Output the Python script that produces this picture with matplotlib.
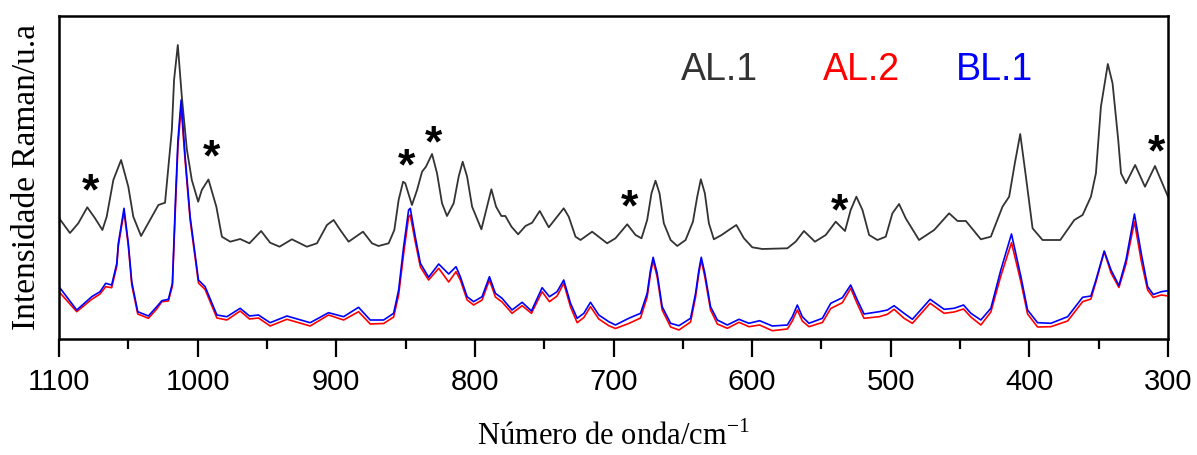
import numpy as np
import matplotlib.pyplot as plt
from matplotlib.ticker import MultipleLocator

plt.rcParams['font.family'] = ['Liberation Sans', 'DejaVu Sans']
plt.rcParams['mathtext.fontset'] = 'custom'
plt.rcParams['mathtext.rm'] = 'Liberation Serif'

# AL.1 (top trace, offset upwards)
wn_al1 = [1100.0, 1092.1, 1086.1, 1079.6, 1074.0, 1068.7, 1065.6, 1060.8, 1055.2, 1050.0,
          1046.4, 1040.8, 1028.3, 1023.5, 1018.6, 1017.0, 1014.3, 1011.4, 1007.8, 1004.2,
          999.6, 997.0, 992.2, 986.5, 982.5, 976.5, 969.3, 962.6, 954.2, 947.7,
          940.9, 932.0, 921.2, 913.9, 906.7, 901.9, 897.1, 891.1, 880.7, 874.2,
          869.5, 862.2, 858.1, 855.0, 851.8, 850.2, 845.4, 841.7, 838.1, 835.3,
          830.9, 827.3, 823.7, 820.1, 815.3, 811.7, 808.8, 805.6, 802.0, 795.3,
          791.2, 788.1, 784.7, 780.9, 778.0, 773.6, 768.8, 763.5, 758.7, 753.2,
          746.7, 740.7, 735.9, 732.3, 727.4, 723.8, 715.4, 704.6, 698.6, 690.1,
          684.1, 679.8, 675.7, 672.6, 669.7, 666.8, 663.7, 658.8, 654.0, 648.0,
          642.7, 639.6, 637.0, 634.1, 631.2, 627.6, 622.0, 616.8, 611.4, 605.9,
          599.9, 592.6, 574.6, 568.6, 562.6, 554.7, 546.9, 539.7, 533.0, 528.9,
          524.8, 520.4, 515.6, 509.6, 503.6, 498.8, 494.0, 489.2, 479.6, 468.7,
          457.9, 451.8, 445.8, 435.0, 427.8, 419.4, 414.6, 410.5, 406.6, 402.5,
          397.7, 390.5, 377.7, 367.6, 361.6, 355.6, 352.0, 348.4, 343.4, 340.0,
          335.9, 333.9, 330.3, 323.7, 316.6, 309.4, 300.0]
int_al1 = [121, 106, 115.7, 131.7, 120.7, 109, 122.3, 159, 179, 152.3,
           122.3, 103, 134, 136.3, 209, 259, 294, 242.3, 190, 159,
           137.3, 149, 159.5, 132.3, 102.3, 97.3, 100, 95.7, 108, 96.3,
           92.3, 99.7, 92.3, 95.7, 114, 119, 109, 97.3, 107.3, 95.7,
           93, 95.7, 109, 139, 157.3, 155.7, 134, 149, 167.3, 172.3,
           185, 165.7, 135.7, 123, 135.7, 162.3, 177.3, 162.3, 132.3, 109.7,
           132.3, 149.7, 132.3, 123, 123, 112.3, 104.7, 113, 116.3, 128,
           111.7, 122.3, 130.7, 122.3, 102.3, 99, 107.3, 95.7, 100.7, 114.7,
           104, 100.7, 119, 145.7, 158.3, 145.7, 115.7, 99, 93, 99,
           117.3, 142.3, 159.7, 145.7, 115.7, 99.7, 104, 109, 114, 100.7,
           91.7, 90, 90.7, 97.3, 108, 97.3, 104, 117.3, 108, 129,
           142.3, 129, 104, 99, 102.3, 125.7, 135, 120.7, 99, 109,
           125.7, 118, 118, 99.7, 102.3, 132.3, 142.3, 175.7, 205, 162.3,
           110.7, 99, 99, 119, 124, 142.3, 165.7, 232.3, 275, 255.7,
           199, 165.7, 155.7, 174, 152.3, 173, 142.3]

# AL.2 and BL.1 (lower traces, same wavenumbers)
wn_low = [1100.0, 1087.2, 1076.4, 1070.4, 1066.3, 1062.0, 1058.3, 1057.2, 1053.1, 1050.0,
          1047.5, 1043.2, 1035.5, 1029.5, 1025.8, 1021.1, 1018.2, 1015.9, 1014.2, 1011.9,
          1009.0, 1005.4, 999.4, 994.6, 986.1, 978.9, 969.3, 962.6, 956.1, 947.7,
          935.6, 918.8, 905.6, 894.7, 883.9, 875.5, 865.8, 858.6, 855.0, 851.4,
          847.8, 846.6, 843.0, 839.3, 833.4, 826.1, 818.9, 813.6, 810.5, 805.6,
          800.9, 794.8, 789.5, 785.2, 780.4, 773.2, 765.9, 759.2, 751.5, 746.2,
          740.7, 735.9, 731.0, 726.2, 721.4, 716.6, 710.6, 703.4, 698.6, 689.0,
          680.5, 675.7, 673.3, 671.4, 668.5, 664.9, 658.8, 652.8, 644.4, 640.8,
          638.4, 636.7, 634.1, 630.0, 625.1, 617.9, 609.5, 602.3, 594.6, 585.4,
          574.6, 571.0, 567.4, 563.8, 559.0, 549.3, 543.3, 534.9, 528.9, 524.1,
          519.3, 508.4, 502.4, 497.6, 490.4, 484.4, 471.6, 461.5, 454.3, 447.5,
          442.2, 435.0, 427.8, 420.6, 412.9, 406.1, 401.3, 394.1, 384.5, 372.4,
          361.6, 355.6, 352.0, 346.0, 341.1, 335.4, 330.3, 324.2, 319.3, 314.7,
          310.6, 304.9, 300.0]
int_bl1 = [52.3, 29, 42.3, 47.3, 55.7, 54, 75.7, 95.7, 130.7, 95.7,
           57, 27.3, 23, 32.3, 38.3, 39.7, 55.7, 142.3, 199, 239,
           182.3, 122.3, 59, 52.3, 24, 22.3, 30.7, 23, 24, 16.3,
           23, 16.3, 26.3, 22.3, 31.7, 19, 19, 25.7, 49, 92.3,
           129, 130.7, 102.3, 75.7, 61.7, 75, 65, 72.3, 62.3, 42.3,
           37.3, 42.3, 62.3, 45.7, 40.7, 29, 36.7, 28, 51.3, 42.3,
           47.3, 59, 35.7, 20.7, 25.7, 36.7, 24, 17.3, 14, 20.7,
           25.7, 45.7, 69, 81.7, 65.7, 32.3, 15.7, 13.3, 20.7, 45.7,
           69, 81.7, 65.7, 32.3, 19, 14, 19.7, 15.7, 18.3, 13,
           14, 22.3, 34, 22.3, 15.7, 20.7, 35.7, 41.3, 54, 39,
           25, 27.3, 29, 33.3, 25.7, 19.7, 39.7, 29.7, 30.7, 34,
           25.7, 19, 30.7, 69, 105, 62.3, 29, 16.3, 15.7, 22.3,
           41.7, 43, 59, 88, 69, 53.5, 79, 125, 85.7, 52.3,
           44.5, 47.3, 48.3]
int_al2 = [47.3, 27.3, 39.7, 45, 52.3, 51.3, 73, 93, 127.3, 93,
           54, 25, 20.7, 30, 37.3, 38, 53, 135, 192, 232,
           178, 119, 56, 49.5, 21, 19, 28, 20, 21, 13,
           19.7, 13, 24, 19, 27.3, 15, 15.5, 22, 44, 85,
           122, 124, 97, 72, 59, 70.7, 57, 67.3, 59, 39,
           34, 39, 59, 42, 37, 25.7, 33.3, 25.7, 47.3, 37.3,
           43, 55.7, 32, 16.3, 21.5, 32.3, 20, 13.3, 10.5, 15.5,
           21, 42, 65.5, 78.3, 62, 29, 12, 9, 17, 42,
           66, 79, 62, 29, 15, 10.7, 16.7, 12.3, 14, 8.3,
           10, 18, 29, 18, 12.3, 16.5, 30.5, 36.3, 50.7, 35,
           20.7, 22.3, 24.7, 29.7, 20.7, 15.7, 35.7, 25.7, 27, 30,
           22, 14, 27, 63, 96.3, 57, 25, 12, 12.3, 18,
           37.3, 40, 57, 87.3, 66, 51.5, 75, 117.3, 78, 49,
           41.5, 44, 43]

# asterisk marks over AL.1 peaks
star_wn = [1077.6, 989.7, 849.5, 829.7, 688.2, 537.3, 308.2]
star_int = [157.3, 190.7, 182.3, 205, 140.7, 137.3, 195.7]

labels = ['AL.1', 'AL.2', 'BL.1']
colors = ['#333333', '#ff0000', '#0000ff']
label_wn = [651.6, 549.1, 453.1]

fig = plt.figure(figsize=(11.97, 4.55), dpi=100)
ax = fig.add_axes([59 / 1197, 116 / 455, 1109 / 1197, 323 / 455])

ax.plot(wn_al1, int_al1, color=colors[0], lw=1.3, solid_joinstyle='round')
ax.plot(wn_low, int_al2, color=colors[1], lw=1.2, solid_joinstyle='round')
ax.plot(wn_low, int_bl1, color=colors[2], lw=1.2, solid_joinstyle='round')

for w, h in zip(star_wn, star_int):
    ax.annotate('*', (w, h), xytext=(0, -16), textcoords='offset points',
                ha='center', va='baseline', fontsize=32, fontweight='bold')

for lab, c, w in zip(labels, colors, label_wn):
    ax.text(w, 269, lab, color=c, fontsize=27, ha='left', va='center')

ax.set_xlim(1100, 300)
ax.set_ylim(0, 323)
ax.xaxis.set_major_locator(MultipleLocator(100))
ax.xaxis.set_minor_locator(MultipleLocator(50))
ax.tick_params(axis='x', which='major', length=13, width=1.6, direction='out',
               labelsize=21, pad=8)
ax.tick_params(axis='x', which='minor', length=7, width=1.6, direction='out')
ax.set_yticks([])
for s in ax.spines.values():
    s.set_linewidth(1.8)

ax.set_xlabel(r'Número de onda/cm$^{\mathregular{-1}}$', family='Liberation Serif',
              fontsize=22, labelpad=18)
ax.set_ylabel('Intensidade Raman/u.a', family='Liberation Serif', fontsize=24,
              labelpad=12)

plt.savefig('out.png', dpi=100)
